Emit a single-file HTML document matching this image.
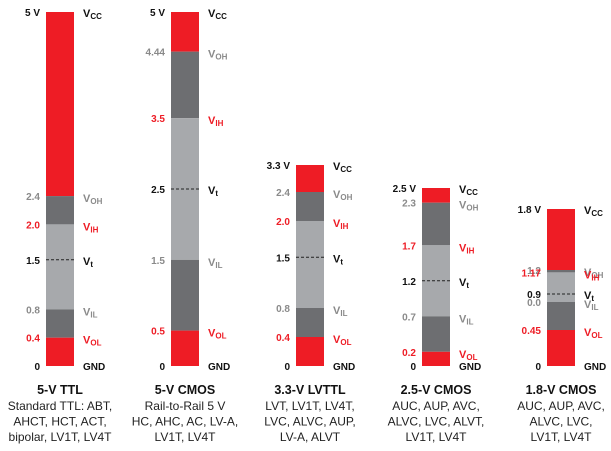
<!DOCTYPE html>
<html><head><meta charset="utf-8"><style>
html,body{margin:0;padding:0;background:#fff;}
svg{display:block;font-family:"Liberation Sans",Arial,sans-serif;}
</style></head><body>
<svg id="chart" width="611" height="451" viewBox="0 0 611 451"></svg>
<script>
const families = ["5-V TTL","5-V CMOS","3.3-V LVTTL","2.5-V CMOS","1.8-V CMOS"];
const vccValues = [5, 5, 3.3, 2.5, 1.8];
const vohValues = [2.4, 4.44, 2.4, 2.3, 1.2];
const vihValues = [2.0, 3.5, 2.0, 1.7, 1.17];
const vtValues = [1.5, 2.5, 1.5, 1.2, 0.9];
const vilValues = [0.8, 1.5, 0.8, 0.7, 0.8];
const volValues = [0.4, 0.5, 0.4, 0.2, 0.45];
const vccLabels = ["5 V","5 V","3.3 V","2.5 V","1.8 V"];
const vohLabels = ["2.4","4.44","2.4","2.3","1.2"];
const vihLabels = ["2.0","3.5","2.0","1.7","1.17"];
const vtLabels = ["1.5","2.5","1.5","1.2","0.9"];
const vilLabels = ["0.8","1.5","0.8","0.7","0.0"];
const volLabels = ["0.4","0.5","0.4","0.2","0.45"];
const subLines = [
 ["Standard TTL: ABT,","AHCT, HCT, ACT,","bipolar, LV1T, LV4T"],
 ["Rail-to-Rail 5 V","HC, AHC, AC, LV-A,","LV1T, LV4T"],
 ["LVT, LV1T, LV4T,","LVC, ALVC, AUP,","LV-A, ALVT"],
 ["AUC, AUP, AVC,","ALVC, LVC, ALVT,","LV1T, LV4T"],
 ["AUC, AUP, AVC,","ALVC, LVC,","LV1T, LV4T"]
];
// layout
const barLeft = [46, 171, 296, 422, 547];
const barW = 28, baseY = 366;
const pxPerVolt = [70.8, 70.8, 72.5, 71, 80];
const topY = [12, 12, 165, 188, 209];
const RED="#ee1c25", DARK="#6d6e71", LIGHT="#a7a9ac", GRAY="#8a8a8a";
const svg = document.getElementById('chart');
const NS = "http://www.w3.org/2000/svg";
function yScale(i, v){ return baseY - v*pxPerVolt[i]; }
function mk(tag, attrs, parent){ const e=document.createElementNS(NS,tag); for(const k in attrs) e.setAttribute(k,attrs[k]); (parent||svg).appendChild(e); return e; }
function txt(x,y,s,opts,parent){ const t=mk('text',Object.assign({x:x,y:y,'font-size':10,'font-weight':'bold'},opts),parent); t.textContent=s; return t; }
function vlabel(g,x,y,main,sub,color){
  const t=mk('text',{x:x,y:y,'font-size':11,'font-weight':'bold',fill:color},g);
  
  
  const a=document.createElementNS(NS,'tspan'); a.textContent=main; t.appendChild(a);
  const b=document.createElementNS(NS,'tspan'); b.setAttribute('font-size','8'); b.setAttribute('dy','2'); b.textContent=sub; t.appendChild(b);
}
families.forEach((f,i)=>{
  const g=mk('g',{});
  
  
  const x=barLeft[i], cx=x+barW/2;
  const yTop=topY[i], yOH=yScale(i,vohValues[i]), yIH=yScale(i,vihValues[i]), yIL=yScale(i,vilValues[i]), yOL=yScale(i,volValues[i]);
  const segs=[[yTop,yOH,RED,'high-output-band'],[yOH,yIH,DARK,'high-undefined-band'],[yIH,yIL,LIGHT,'threshold-band'],[yIL,yOL,DARK,'low-undefined-band'],[yOL,baseY,RED,'low-output-band']];
  segs.forEach(s=>{
    const r=mk('rect',{x:x,y:Math.min(s[0],s[1]),width:barW,height:Math.abs(s[1]-s[0]),fill:s[2]},g);
    
    
  });
  const yT=yScale(i,vtValues[i]);
  const dl=mk('line',{x1:x,x2:x+barW,y1:yT,y2:yT,stroke:'#222','stroke-width':1,'stroke-dasharray':'3,2'},g);
  
  
  const lx=x-6, rx=x+barW+9;
  const L=[[yTop+4,vccLabels[i],'#111'],[yOH+4,vohLabels[i],GRAY],[yIH+4,vihLabels[i],RED],[yT+4,vtLabels[i],'#111'],[yIL+4,vilLabels[i],GRAY],[yOL+4,volLabels[i],RED],[baseY+4,'0','#111']];
  L.forEach(l=>{ const t=txt(lx,l[0],l[1],{'text-anchor':'end',fill:l[2]},g);
    
     });
  vlabel(g,rx,yTop+5,'V','CC','#111');
  vlabel(g,rx,yOH+6,'V','OH',GRAY);
  vlabel(g,rx,yIH+6,'V','IH',RED);
  vlabel(g,rx,yT+5,'V','t','#111');
  vlabel(g,rx,yIL+6,'V','IL',GRAY);
  vlabel(g,rx,yOL+6,'V','OL',RED);
  const gnd=txt(rx,baseY+4,'GND',{fill:'#111'},g);
  
  
  const tt=txt(cx,394,f,{'text-anchor':'middle','font-size':12.5,fill:'#111'},g);
  
  
  subLines[i].forEach((s,j)=>{
    const st=txt(cx,410+j*15.5,s,{'text-anchor':'middle','font-size':12,'font-weight':'normal',fill:'#222'},g);
    
    
  });
});
</script>
</body></html>
